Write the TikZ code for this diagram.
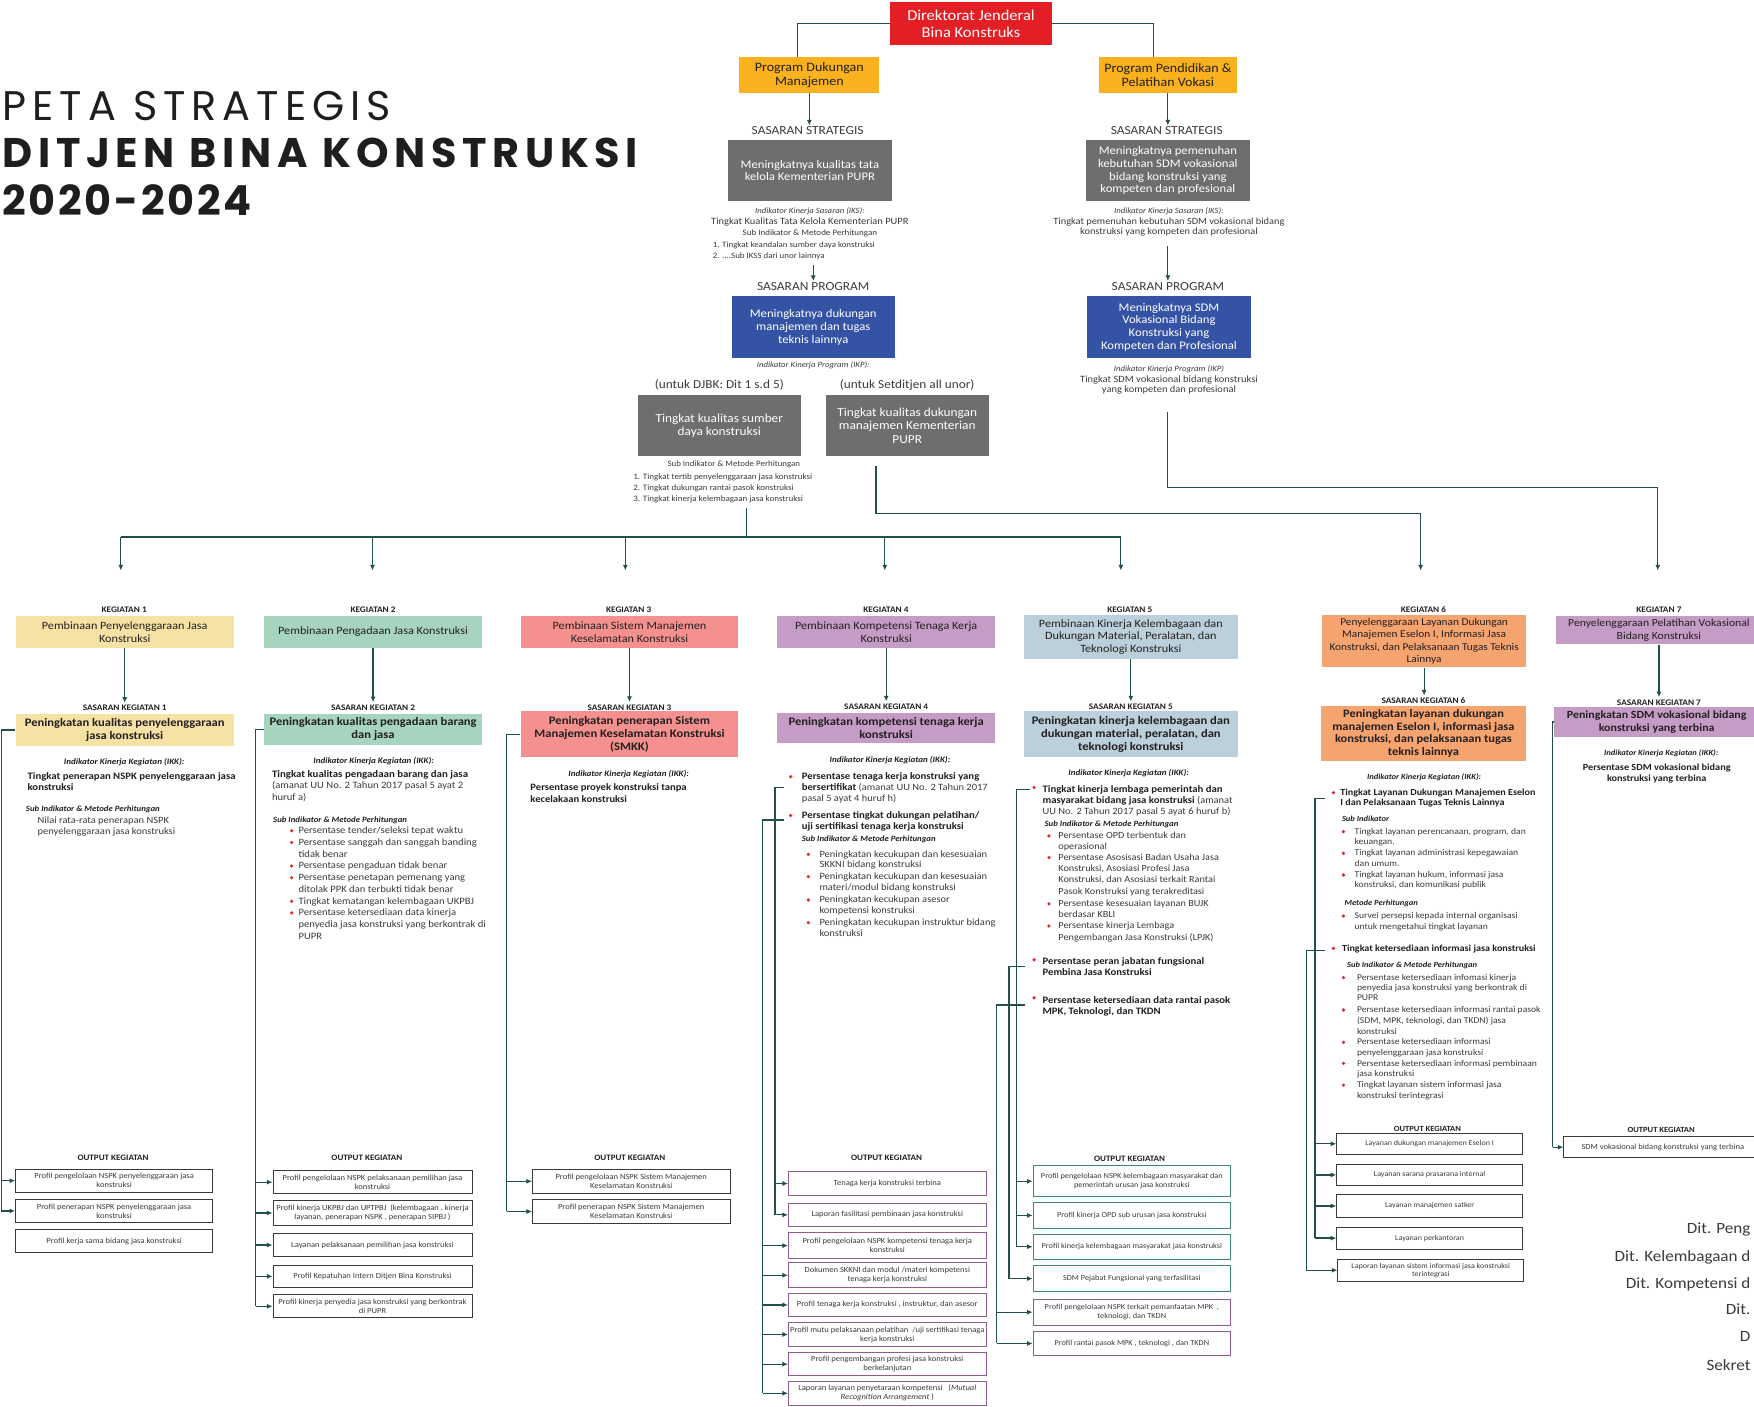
\documentclass[tikz,border=0pt]{standalone}
\usepackage{fontspec}
\setmainfont{Carlito}[FakeStretch=1.09]
\newfontfamily\titleA[LetterSpace=14.5]{Poppins}
\newfontfamily\titleB[LetterSpace=13.7]{Poppins}
\newfontfamily\titleC[LetterSpace=6.5]{Poppins}
\usetikzlibrary{arrows.meta}
\definecolor{djred}{HTML}{E31E25}
\definecolor{progor}{HTML}{F9B21D}
\definecolor{gboxc}{HTML}{6D6E70}
\definecolor{bboxc}{HTML}{3553A4}
\definecolor{kaa}{HTML}{F6E2A5}
\definecolor{kbb}{HTML}{A7D4BF}
\definecolor{kcc}{HTML}{F4918E}
\definecolor{kdd}{HTML}{C59CC6}
\definecolor{kee}{HTML}{BBD0DA}
\definecolor{kff}{HTML}{F5A36F}
\definecolor{lnc}{HTML}{22504F}
\definecolor{txc}{HTML}{3B3B3B}
\definecolor{dark}{HTML}{231F20}
\definecolor{bulr}{HTML}{E3262B}
\definecolor{obpur}{HTML}{8E5B92}
\definecolor{obgrn}{HTML}{3D8D6D}
\definecolor{obdk}{HTML}{3A3A3A}
\definecolor{ttl}{HTML}{1E1E1E}
\newcommand\mlines[1]{\begin{tabular}[t]{@{}l@{}}#1\end{tabular}}
\newcommand\mcent[1]{\begin{tabular}[t]{@{}c@{}}#1\end{tabular}}
\newcommand\bd[1]{\textcolor{dark}{\textbf{#1}}}
\begin{document}
\begin{tikzpicture}[x=1pt,y=-1pt,
 box/.style={inner sep=0pt, align=center},
 kbox/.style={box, text=dark, font=\fontsize{10}{12}\selectfont},
 sbox/.style={box, text=dark, font=\fontsize{10.3}{11.6}\selectfont\bfseries},
 wbox/.style={box, text=white, minimum width=146pt, minimum height=55pt, font=\fontsize{10.4}{11.4}\selectfont},
 lbl/.style={inner sep=0pt, text=dark, font=\fontsize{7.6}{8}\selectfont\bfseries},
 olbl/.style={inner sep=0pt, text=dark, font=\fontsize{7.4}{8}\selectfont\bfseries},
 lab/.style={inner sep=0pt, text=txc, font=\fontsize{11}{12}\selectfont},
 ikk/.style={inner sep=0pt, anchor=base, text=dark, font=\fontsize{7.4}{8}\selectfont\bfseries\itshape, yshift=-2.2pt},
 tlbi/.style={inner sep=0pt, anchor=base west, text=dark, font=\fontsize{7.2}{8}\selectfont\bfseries\itshape, yshift=-2.1pt},
 tl/.style 2 args={inner sep=0pt, anchor=base west, text=txc, font=\fontsize{#1}{#2}\selectfont, yshift={-0.3*#1pt}},
 tlb/.style 2 args={inner sep=0pt, anchor=base west, text=dark, font=\fontsize{#1}{#2}\selectfont\bfseries, yshift={-0.3*#1pt}},
 tc/.style 2 args={inner sep=0pt, anchor=base, text=txc, font=\fontsize{#1}{#2}\selectfont, yshift={-0.3*#1pt}},
 tcb/.style 2 args={inner sep=0pt, anchor=base, text=dark, font=\fontsize{#1}{#2}\selectfont\bfseries, yshift={-0.3*#1pt}},
 ln/.style={draw=lnc, line width=1.1pt},
 arr/.style={ln, -{Latex[length=5pt,width=4.5pt]}},
 ob/.style={draw=obdk, line width=0.8pt, inner sep=0pt, align=center, text=txc, font=\fontsize{7}{8}\selectfont},
]
\useasboundingbox (0,0) rectangle (1568,1257);
\fill[white] (0,0) rectangle (1568,1257);

% ---------- title ----------
\node[anchor=base west, inner sep=0pt, text=ttl, font=\titleA\fontsize{37}{40}\selectfont] (tt1) at (2,108) {PETA STRATEGIS};
\node[anchor=base west, inner sep=0pt, text=ttl, font=\titleB\fontsize{37}{40}\selectfont\bfseries] (tt2) at (2,150) {DITJEN BINA KONSTRUKSI};
\node[anchor=base west, inner sep=0pt, text=ttl, font=\titleC\fontsize{37}{40}\selectfont\bfseries] (tt3) at (2,193) {2020-2024};

% ---------- top ----------
\node[box, fill=djred, text=white, minimum width=144pt, minimum height=38pt, font=\fontsize{13.5}{15}\selectfont] (dj) at (868,21) {Direktorat Jenderal\\Bina Konstruks};
\node[box, fill=progor, text=dark, minimum width=125pt, minimum height=32pt, font=\fontsize{11.5}{12}\selectfont] (pdm) at (723.5,67) {Program Dukungan\\Manajemen};
\node[box, fill=progor, text=dark, minimum width=124pt, minimum height=32pt, font=\fontsize{11.5}{12}\selectfont] (ppv) at (1044,67) {Program Pendidikan \&\\Pelatihan Vokasi};
\draw[ln] (dj.west) -| ([xshift=-10.5pt]pdm.north);
\draw[ln] (dj.east) -| ([xshift=-13pt]ppv.north);

\node[lab] (ss1) at (722,117) {SASARAN STRATEGIS};
\node[lab] (ss2) at (1043,117) {SASARAN STRATEGIS};
\draw[arr, shorten >=1pt] (pdm.south) -- (pdm.south |- ss1.north);
\draw[arr, shorten >=1pt] (ppv.south) -- (ppv.south |- ss2.north);

\node[wbox, fill=gboxc] (g1) at (724,152.5) {Meningkatnya kualitas tata\\kelola Kementerian PUPR};
\node[wbox, fill=gboxc] (g4) at (1044,152.5) {Meningkatnya pemenuhan\\kebutuhan SDM vokasional\\bidang konstruksi yang\\kompeten dan profesional};

\node[tc={7.2}{8}] (iks1) at (724,189) {\itshape Indikator Kinerja Sasaran (IKS):};
\node[tc={8.6}{9}] (iks1t) at (724,198) {Tingkat Kualitas Tata Kelola Kementerian PUPR};
\node[tc={7.4}{8}] (iks1s) at (724,208) {Sub Indikator \& Metode Perhitungan};
\node[tl={7.3}{10}] (iks1l) at (637,219) {\mlines{1. Tingkat keandalan sumber daya konstruksi\\2. ....Sub IKSS dari unor lainnya}};

\node[tc={7.2}{8}] (iks2) at (1045,189) {\itshape Indikator Kinerja Sasaran (IKS):};
\node[tc={8.5}{9.5}] (iks2t) at (1045,198) {\mcent{Tingkat pemenuhan kebutuhan SDM vokasional bidang\\konstruksi yang kompeten dan profesional}};

\node[lab] (sp1) at (727,256) {SASARAN PROGRAM};
\node[lab] (sp2) at (1044,256) {SASARAN PROGRAM};
\coordinate (a1s) at (727,237);
\coordinate (a2s) at (1044,220);
\draw[arr, shorten >=1pt] (a1s) -- (a1s |- sp1.north);
\draw[arr, shorten >=1pt] (a2s) -- (a2s |- sp2.north);

\node[wbox, fill=bboxc] (b1) at (727,292.5) {Meningkatnya dukungan\\manajemen dan tugas\\teknis lainnya};
\node[wbox, fill=bboxc] (b2) at (1045,292.5) {Meningkatnya SDM\\Vokasional Bidang\\Konstruksi yang\\Kompeten dan Profesional};

\node[tc={7.2}{8}] (ikp1) at (727,326) {\itshape Indikator Kinerja Program (IKP):};
\node[tc={7.2}{8}] (ikp2) at (1045,330) {\itshape Indikator Kinerja Program (IKP)};
\node[tc={8.6}{9.4}] (ikp2t) at (1045,339) {\mcent{Tingkat SDM vokasional bidang konstruksi\\yang kompeten dan profesional}};

\node[tc={10.9}{11}] (ud1) at (643,344) {(untuk DJBK: Dit 1 s.d 5)};
\node[tc={10.9}{11}] (ud2) at (811,344) {(untuk Setditjen all unor)};

\node[wbox, fill=gboxc, font=\fontsize{10.9}{12}\selectfont] (g2) at (643,380.5) {Tingkat kualitas sumber\\daya konstruksi};
\node[wbox, fill=gboxc, font=\fontsize{10.9}{12}\selectfont] (g3) at (811,380.5) {Tingkat kualitas dukungan\\manajemen Kementerian\\PUPR};

\node[tc={7.3}{8}] (g2s) at (656,415) {Sub Indikator \& Metode Perhitungan};
\node[tl={7.4}{9.6}] (g2l) at (566,426.5) {\mlines{1. Tingkat tertib penyelenggaraan jasa konstruksi\\2. Tingkat dukungan rantai pasok konstruksi\\3. Tingkat kinerja kelembagaan jasa konstruksi}};

% ---------- distribution lines ----------
\coordinate (bus0) at (667,454);
\coordinate (busm) at (667,480);
\coordinate (busl) at (108,480);
\coordinate (busr) at (1002,480);
\coordinate (d1) at (108,510);
\coordinate (d2) at (333,510);
\coordinate (d3) at (559,510);
\coordinate (d4) at (791,510);
\coordinate (d5) at (1002,510);
\coordinate (d6) at (1270,510);
\coordinate (d7) at (1482,510);
\draw[ln] (bus0) -- (busm);
\draw[ln] (busl) -- (busr);
\draw[arr] (busl) -- (d1);
\draw[arr] (d2 |- busm) -- (d2);
\draw[arr] (d3 |- busm) -- (d3);
\draw[arr] (d4 |- busm) -- (d4);
\draw[arr] (busr) -- (d5);
\coordinate (sd0) at (783,417);
\draw[arr] (sd0) -- ++(0,42) -| (d6);
\coordinate (rv0) at (1044,368);
\draw[arr] (rv0) -- ++(0,68) -| (d7);

% ---------- KEGIATAN 1 ----------
\node[lbl] (k1l) at (111,545) {KEGIATAN 1};
\node[kbox, fill=kaa, minimum width=195pt, minimum height=28pt] (k1) at (111.5,565) {Pembinaan Penyelenggaraan Jasa\\Konstruksi};
\node[lbl] (s1l) at (111.5,633) {SASARAN KEGIATAN 1};
\draw[arr, shorten >=2pt] (k1.south) -- (k1.south |- s1l.north);
\node[sbox, fill=kaa, minimum width=195pt, minimum height=29pt] (s1) at (111.5,652.5) {Peningkatan kualitas penyelenggaraan\\jasa konstruksi};
\node[ikk] (i1) at (111,681) {Indikator Kinerja Kegiatan (IKK):};
\node[tlb={8.8}{10}] (i1a) at (24.5,694) {\mlines{Tingkat penerapan NSPK penyelenggaraan jasa\\konstruksi}};
\node[tlbi] (i1s) at (23,723) {Sub Indikator \& Metode Perhitungan};
\node[tl={8.6}{9.8}] (i1b) at (33.5,733.7) {\mlines{Nilai rata-rata penerapan NSPK\\penyelenggaraan jasa konstruksi}};

\node[olbl] (o1l) at (101,1035) {OUTPUT KEGIATAN};
\node[ob, minimum width=176pt, minimum height=21pt] (o11) at (102,1055.5) {Profil pengelolaan NSPK penyelenggaraan jasa\\konstruksi};
\node[ob, minimum width=176pt, minimum height=21pt] (o12) at (102,1082.5) {Profil penerapan NSPK penyelenggaraan jasa\\konstruksi};
\node[ob, minimum width=176pt, minimum height=21pt] (o13) at (102,1109.5) {Profil kerja sama bidang jasa konstruksi};
\coordinate (c1) at (1,652.5);
\draw[ln] (s1.west) -- (c1) -- (c1 |- o12.west);
\draw[arr] (c1 |- o11.west) -- (o11.west);
\draw[arr] (c1 |- o12.west) -- (o12.west);

% ---------- KEGIATAN 2 ----------
\node[lbl] (k2l) at (333.5,545) {KEGIATAN 2};
\node[kbox, fill=kbb, minimum width=195pt, minimum height=28pt] (k2) at (333.5,565) {Pembinaan Pengadaan Jasa Konstruksi};
\node[lbl] (s2l) at (333.5,632.5) {SASARAN KEGIATAN 2};
\draw[arr, shorten >=2pt] (k2.south) -- (k2.south |- s2l.north);
\node[sbox, fill=kbb, minimum width=195pt, minimum height=28pt] (s2) at (333.5,652) {Peningkatan kualitas pengadaan barang\\dan jasa};
\node[ikk] (i2) at (334,680) {Indikator Kinerja Kegiatan (IKK):};
\node[tl={8.7}{10.4}] (i2a) at (243,692) {\mlines{\bd{\fontsize{8.9}{10.4}\selectfont Tingkat kualitas pengadaan barang dan jasa}\\(amanat UU No. 2 Tahun 2017 pasal 5 ayat 2\\huruf a)}};
\node[tlbi] (i2s) at (244,733) {Sub Indikator \& Metode Perhitungan};
\node[tl={8.7}{10.5}] (i2b) at (266.7,742.6) {\mlines{Persentase tender/seleksi tepat waktu\\Persentase sanggah dan sanggah banding\\tidak benar\\Persentase pengaduan tidak benar\\Persentase penetapan pemenang yang\\ditolak PPK dan terbukti tidak benar\\Tingkat kematangan kelembagaan UKPBJ\\Persentase ketersediaan data kinerja\\penyedia jasa konstruksi yang berkontrak di\\PUPR}};
\foreach \yy in {742.6,753.1,774.1,784.6,805.6,816.1} \fill[bulr] (260.7,\yy) circle[radius=1.6pt];

\node[olbl] (o2l) at (328,1035) {OUTPUT KEGIATAN};
\node[ob, minimum width=178pt, minimum height=20.5pt] (o21) at (333,1056.8) {Profil pengelolaan NSPK pelaksanaan pemilihan jasa\\konstruksi};
\node[ob, minimum width=178pt, minimum height=22.6pt] (o22) at (333,1084.3) {Profil kinerja UKPBJ dan UPTPBJ~~(kelembagaan , kinerja\\layanan, penerapan NSPK , penerapan SIPBJ )};
\node[ob, minimum width=178pt, minimum height=20pt] (o23) at (333,1113) {Layanan pelaksanaan pemilihan jasa konstruksi};
\node[ob, minimum width=178pt, minimum height=20pt] (o24) at (333,1141) {Profil Kepatuhan Intern Ditjen Bina Konstruksi};
\node[ob, minimum width=178pt, minimum height=20.5pt] (o25) at (333,1167.8) {Profil kinerja penyedia jasa konstruksi yang berkontrak\\di PUPR};
\coordinate (c2) at (228.6,652);
\draw[ln] (s2.west) -- (c2) -- (c2 |- o25.west);
\foreach \o in {o21,o22,o23,o24,o25} \draw[arr] (c2 |- \o.west) -- (\o.west);

% ---------- KEGIATAN 3 ----------
\node[lbl] (k3l) at (562,545) {KEGIATAN 3};
\node[kbox, fill=kcc, minimum width=194.5pt, minimum height=28pt] (k3) at (562.7,565) {Pembinaan Sistem Manajemen\\Keselamatan Konstruksi};
\node[lbl] (s3l) at (562.7,632.3) {SASARAN KEGIATAN 3};
\draw[arr, shorten >=2pt] (k3.south) -- (k3.south |- s3l.north);
\node[sbox, fill=kcc, minimum width=194.5pt, minimum height=41pt] (s3) at (562.7,656.5) {Peningkatan penerapan Sistem\\Manajemen Keselamatan Konstruksi\\(SMKK)};
\node[ikk] (i3) at (562,692) {Indikator Kinerja Kegiatan (IKK):};
\node[tlb={8.7}{10.7}] (i3a) at (474,703.8) {\mlines{Persentase proyek konstruksi tanpa\\kecelakaan konstruksi}};

\node[olbl] (o3l) at (563,1035) {OUTPUT KEGIATAN};
\node[ob, minimum width=176.6pt, minimum height=22pt] (o31) at (564.3,1056) {Profil pengelolaan NSPK Sistem Manajemen\\Keselamatan Konstruksi};
\node[ob, minimum width=176.6pt, minimum height=22pt] (o32) at (564.3,1083) {Profil penerapan NSPK Sistem Manajemen\\Keselamatan Konstruksi};
\coordinate (c3) at (453,656.5);
\draw[ln] (s3.west) -- (c3) -- (c3 |- o32.west);
\foreach \o in {o31,o32} \draw[arr] (c3 |- \o.west) -- (\o.west);

% ---------- KEGIATAN 4 ----------
\node[lbl] (k4l) at (792,545) {KEGIATAN 4};
\node[kbox, fill=kdd, minimum width=194.5pt, minimum height=28pt] (k4) at (792.2,565) {Pembinaan Kompetensi Tenaga Kerja\\Konstruksi};
\node[lbl] (s4l) at (792.2,631.7) {SASARAN KEGIATAN 4};
\draw[arr, shorten >=2pt] (k4.south) -- (k4.south |- s4l.north);
\node[sbox, fill=kdd, minimum width=194.5pt, minimum height=27.5pt] (s4) at (792.2,650.7) {Peningkatan kompetensi tenaga kerja\\konstruksi};
\node[ikk] (i4) at (795.6,679.4) {Indikator Kinerja Kegiatan (IKK):};
\node[tl={8.6}{10}] (i4a) at (716.6,694.3) {\mlines{\bd{\fontsize{8.8}{10}\selectfont Persentase tenaga kerja konstruksi yang}\\\bd{\fontsize{8.8}{10}\selectfont bersertifikat} (amanat UU No. 2 Tahun 2017\\pasal 5 ayat 4 huruf h)}};
\node[tlb={8.8}{10}] (i4b) at (716.6,729) {\mlines{Persentase tingkat dukungan pelatihan/\\uji sertifikasi tenaga kerja konstruksi}};
\fill[bulr] (706.8,694.3) circle[radius=1.6pt];
\fill[bulr] (706.8,729) circle[radius=1.6pt];
\node[tlbi] (i4s) at (716.6,750.3) {Sub Indikator \& Metode Perhitungan};
\node[tl={8.6}{9.6}] (i4c) at (732.4,763.7) {\mlines{Peningkatan kecukupan dan kesesuaian\\SKKNI bidang konstruksi}};
\node[tl={8.6}{9.6}] (i4d) at (732.4,783.7) {\mlines{Peningkatan kecukupan dan kesesuaian\\materi/modul bidang konstruksi}};
\node[tl={8.6}{9.6}] (i4e) at (732.4,804.5) {\mlines{Peningkatan kecukupan asesor\\kompetensi konstruksi}};
\node[tl={8.6}{9.6}] (i4f) at (732.4,824.8) {\mlines{Peningkatan kecukupan instruktur bidang\\konstruksi}};
\foreach \yy in {763.7,783.7,804.5,824.8} \fill[bulr] (722.6,\yy) circle[radius=1.6pt];

\node[olbl] (o4l) at (792.5,1035) {OUTPUT KEGIATAN};
\tikzset{obp/.style={ob, draw=obpur, minimum width=176.7pt}}
\node[obp, minimum height=22pt] (o41) at (793.2,1058) {Tenaga kerja konstruksi terbina};
\node[obp, minimum height=21pt] (o42) at (793.2,1086) {Laporan fasilitasi pembinaan jasa konstruksi};
\node[obp, minimum height=23pt] (o43) at (793.2,1113.5) {Profil pengelolaan NSPK kompetensi tenaga kerja\\konstruksi};
\node[obp, minimum height=22pt] (o44) at (793.2,1140) {Dokumen SKKNI dan modul /materi kompetensi\\tenaga kerja konstruksi};
\node[obp, minimum height=21pt] (o45) at (793.2,1166.5) {Profil tenaga kerja konstruksi , instruktur, dan asesor};
\node[obp, minimum height=22pt] (o46) at (793.2,1193) {Profil mutu pelaksanaan pelatihan~ /uji sertifikasi tenaga\\kerja konstruksi};
\node[obp, minimum height=21pt] (o47) at (793.2,1219.5) {Profil pengembangan profesi jasa konstruksi\\berkelanjutan};
\node[obp, minimum height=21pt] (o48) at (793.2,1245.5) {Laporan layanan penyetaraan kompetensi~~ (\textit{Mutual}\\\textit{Recognition Arrangement} )};
\coordinate (k4a) at (692.8,704.1);
\coordinate (k4ae) at (700.9,704.1);
\draw[ln] (k4ae) -- (k4a) -- (k4a |- o42.west);
\foreach \o in {o41,o42} \draw[arr] (k4a |- \o.west) -- (\o.west);
\coordinate (k4b) at (681.8,733);
\coordinate (k4be) at (701,733);
\draw[ln] (k4be) -- (k4b) -- (k4b |- o48.west);
\foreach \o in {o43,o44,o45,o46,o47,o48} \draw[arr] (k4b |- \o.west) -- (\o.west);

% ---------- KEGIATAN 5 ----------
\node[lbl] (k5l) at (1010,545.3) {KEGIATAN 5};
\node[kbox, fill=kee, minimum width=191pt, minimum height=39.3pt, font=\fontsize{10}{11.6}\selectfont] (k5) at (1010.9,569.5) {Pembinaan Kinerja Kelembagaan dan\\Dukungan Material, Peralatan, dan\\Teknologi Konstruksi};
\node[lbl] (s5l) at (1010.9,631.7) {SASARAN KEGIATAN 5};
\draw[arr, shorten >=2pt] (k5.south) -- (k5.south |- s5l.north);
\node[sbox, fill=kee, minimum width=191pt, minimum height=41pt] (s5) at (1010.9,656.5) {Peningkatan kinerja kelembagaan dan\\dukungan material, peralatan, dan\\teknologi konstruksi};
\node[ikk] (i5) at (1009,690.7) {Indikator Kinerja Kegiatan (IKK):};
\node[tl={8.6}{10}] (i5a) at (931.8,705.6) {\mlines{\bd{\fontsize{8.8}{10}\selectfont Tingkat kinerja lembaga pemerintah dan}\\\bd{\fontsize{8.8}{10}\selectfont masyarakat bidang jasa konstruksi} (amanat\\UU No. 2 Tahun 2017 pasal 5 ayat 6 huruf b)}};
\node[tlbi] (i5s) at (933.6,736.9) {Sub Indikator \& Metode Perhitungan};
\node[tl={8.4}{9.9}] (i5c) at (946,747.3) {\mlines{Persentase OPD terbentuk dan\\operasional}};
\node[tl={8.4}{10}] (i5d) at (946,766.7) {\mlines{Persentase Asosisasi Badan Usaha Jasa\\Konstruksi, Asosiasi Profesi Jasa\\Konstruksi, dan Asosiasi terkait Rantai\\Pasok Konstruksi yang terakreditasi}};
\node[tl={8.4}{9.6}] (i5e) at (946,808) {\mlines{Persentase kesesuaian layanan BUJK\\berdasar KBLI}};
\node[tl={8.4}{10.4}] (i5f) at (946,827.8) {\mlines{Persentase kinerja Lembaga\\Pengembangan Jasa Konstruksi (LPJK)}};
\foreach \yy in {747.3,766.7,808,827.8} \fill[bulr] (937.7,\yy) circle[radius=1.6pt];
\node[tlb={8.8}{10}] (i5g) at (931.8,859.7) {\mlines{Persentase peran jabatan fungsional\\Pembina Jasa Konstruksi}};
\node[tlb={8.8}{10.4}] (i5h) at (931.8,894) {\mlines{Persentase ketersediaan data rantai pasok\\MPK, Teknologi, dan TKDN}};
\foreach \yy in {704,858,892} \fill[bulr] (924.4,\yy) circle[radius=1.6pt];

\node[olbl] (o5l) at (1009.7,1035.5) {OUTPUT KEGIATAN};
\tikzset{obg/.style={ob, draw=obgrn, minimum width=176.5pt, font=\fontsize{6.8}{8}\selectfont},
 obq/.style={ob, draw=obpur, minimum width=176.5pt, font=\fontsize{6.8}{8}\selectfont}}
\node[obg, minimum height=28pt] (o51) at (1011.8,1056) {Profil pengelolaan NSPK kelembagaan masyarakat dan\\pemerintah urusan jasa konstruksi};
\node[obg, minimum height=22.5pt] (o52) at (1011.8,1086.5) {Profil kinerja OPD sub urusan jasa konstruksi};
\node[obg, minimum height=22pt] (o53) at (1011.8,1114.5) {Profil kinerja kelembagaan masyarakat jasa konstruksi};
\node[obg, minimum height=23pt] (o54) at (1011.8,1143) {SDM Pejabat Fungsional yang terfasilitasi};
\node[obq, minimum height=23pt] (o55) at (1011.8,1173) {Profil pengelolaan NSPK terkait pemanfaatan MPK~ ,\\teknologi, dan TKDN};
\node[obq, minimum height=22pt] (o56) at (1011.8,1201) {Profil rantai pasok MPK , teknologi , dan TKDN};
\coordinate (k5a) at (909,706);
\coordinate (k5ae) at (920.8,706);
\coordinate (k5b) at (902,864);
\coordinate (k5be) at (916.3,864);
\coordinate (k5c) at (891,898.5);
\coordinate (k5ce) at (916.3,898.5);
\draw[ln] (k5ae) -- (k5a) -- (k5a |- o53.west);
\foreach \o in {o51,o52,o53} \draw[arr] (k5a |- \o.west) -- (\o.west);
\draw[ln] (k5be) -- (k5b) -- (k5b |- o54.west);
\draw[arr] (k5b |- o54.west) -- (o54.west);
\draw[ln] (k5ce) -- (k5c) -- (k5c |- o56.west);
\foreach \o in {o55,o56} \draw[arr] (k5c |- \o.west) -- (\o.west);

% ---------- KEGIATAN 6 ----------
\node[lbl] (k6l) at (1272.5,545.3) {KEGIATAN 6};
\node[kbox, fill=kff, minimum width=181.8pt, minimum height=46.7pt, font=\fontsize{9.3}{11.1}\selectfont] (k6) at (1273.1,573.2) {Penyelenggaraan Layanan Dukungan\\Manajemen Eselon I, Informasi Jasa\\Konstruksi, dan Pelaksanaan Tugas Teknis\\Lainnya};
\node[lbl] (s6l) at (1272.5,626.6) {SASARAN KEGIATAN 6};
\draw[arr, shorten >=2pt] (k6.south) -- (k6.south |- s6l.north);
\node[sbox, fill=kff, minimum width=183pt, minimum height=49pt, font=\fontsize{10.2}{11.2}\selectfont\bfseries] (s6) at (1272.5,655.5) {Peningkatan layanan dukungan\\manajemen Eselon I, informasi jasa\\konstruksi, dan pelaksanaan tugas\\teknis lainnya};
\node[ikk, font=\fontsize{7}{8}\selectfont\bfseries\itshape] (i6) at (1273,695) {Indikator Kinerja Kegiatan (IKK):};
\node[tlb={8.3}{9.2}] (i6a) at (1198,708.6) {\mlines{Tingkat Layanan Dukungan Manajemen Eselon\\I dan Pelaksanaan Tugas Teknis Lainnya}};
\node[tlbi, font=\fontsize{7}{8}\selectfont\bfseries\itshape] (i6s) at (1199.5,732.4) {Sub Indikator};
\node[tl={7.9}{9.5}] (i6c) at (1210.8,743.5) {\mlines{Tingkat layanan perencanaan, program, dan\\keuangan.}};
\node[tl={7.9}{9.5}] (i6d) at (1210.8,762.8) {\mlines{Tingkat layanan administrasi kepegawaian\\dan umum.}};
\node[tl={7.9}{9}] (i6e) at (1210.8,782.2) {\mlines{Tingkat layanan hukum, informasi jasa\\konstruksi, dan komunikasi publik}};
\node[tlbi, font=\fontsize{7}{8}\selectfont\bfseries\itshape] (i6m) at (1201.8,807.5) {Metode Perhitungan};
\node[tl={7.9}{9.5}] (i6f) at (1210.8,818.9) {\mlines{Survei persepsi kepada internal organisasi\\untuk mengetahui tingkat layanan}};
\node[tlb={8.3}{9}] (i6b) at (1199.5,847.8) {Tingkat ketersediaan informasi jasa konstruksi};
\node[tlbi, font=\fontsize{7}{8}\selectfont\bfseries\itshape] (i6s2) at (1204,863.2) {Sub Indikator \& Metode Perhitungan};
\node[tl={7.9}{9}] (i6g) at (1212.9,874) {\mlines{Persentase ketersediaan infomasi kinerja\\penyedia jasa konstruksi yang berkontrak di\\PUPR}};
\node[tl={7.9}{9.6}] (i6h) at (1212.9,902.9) {\mlines{Persentase ketersediaan informasi rantai pasok\\(SDM, MPK, teknologi, dan TKDN) jasa\\konstruksi}};
\node[tl={7.9}{9.2}] (i6i) at (1212.9,931.8) {\mlines{Persentase ketersediaan informasi\\penyelenggaraan jasa konstruksi}};
\node[tl={7.9}{9}] (i6j) at (1212.9,950.6) {\mlines{Persentase ketersediaan informasi pembinaan\\jasa konstruksi}};
\node[tl={7.9}{9.5}] (i6k) at (1212.9,970) {\mlines{Tingkat layanan sistem informasi jasa\\konstruksi terintegrasi}};
\foreach \yy in {708.6,847.8} \fill[bulr] (1192,\yy) circle[radius=1.6pt];
\foreach \yy in {743.5,762.8,782.2,818.9,874,902.9,931.8,950.6,970} \fill[bulr] (1201,\yy) circle[radius=1.6pt];

\node[olbl, font=\fontsize{7}{8}\selectfont\bfseries] (o6l) at (1276,1009) {OUTPUT KEGIATAN};
\tikzset{obk/.style={ob, minimum width=166pt, font=\fontsize{6.6}{7}\selectfont}}
\node[obk, minimum height=19.4pt] (o61) at (1278,1022.5) {Layanan dukungan manajemen Eselon I};
\node[obk, minimum height=19.5pt] (o62) at (1278,1050.3) {Layanan sarana prasarana internal};
\node[obk, minimum height=20pt] (o63) at (1278,1078) {Layanan manajemen satker};
\node[obk, minimum height=19.5pt] (o64) at (1278,1106.8) {Layanan perkantoran};
\node[obk, minimum height=19.3pt] (o65) at (1279,1135.5) {Laporan layanan sistem informasi jasa konstruksi\\terintegrasi};
\coordinate (k6a) at (1175.6,713.6);
\coordinate (k6ae) at (1184.5,713.6);
\coordinate (k6b) at (1167.6,850);
\coordinate (k6be) at (1184.5,850);
\draw[ln] (k6ae) -- (k6a) -- (k6a |- o64.west);
\foreach \o in {o61,o62,o63,o64} \draw[arr] (k6a |- \o.west) -- (\o.west);
\draw[ln] (k6be) -- (k6b) -- (k6b |- o65.west);
\draw[arr] (k6b |- o65.west) -- (o65.west);

% ---------- KEGIATAN 7 ----------
\node[lbl] (k7l) at (1483,544.7) {KEGIATAN 7};
\node[kbox, fill=kdd, minimum width=184pt, minimum height=25.4pt, font=\fontsize{9.6}{11.9}\selectfont] (k7) at (1483,563.3) {Penyelenggaraan Pelatihan Vokasional\\Bidang Konstruksi};
\node[lbl] (s7l) at (1483,628) {SASARAN KEGIATAN 7};
\draw[arr, shorten >=2pt] (k7.south) -- (k7.south |- s7l.north);
\node[sbox, fill=kdd, minimum width=184pt, minimum height=27pt, font=\fontsize{9.8}{12}\selectfont\bfseries] (s7) at (1481,645.5) {Peningkatan SDM vokasional bidang\\konstruksi yang terbina};
\node[ikk, font=\fontsize{7}{8}\selectfont\bfseries\itshape] (i7) at (1485,673) {Indikator Kinerja Kegiatan (IKK):};
\node[tcb={8.4}{10}] (i7a) at (1481,686) {\mcent{Persentase SDM vokasional bidang\\konstruksi yang terbina}};
\node[olbl, font=\fontsize{7}{8}\selectfont\bfseries] (o7l) at (1485,1010) {OUTPUT KEGIATAN};
\node[obk, minimum width=177pt, minimum height=19pt, font=\fontsize{7}{8}\selectfont] (o71) at (1486.5,1025.5) {SDM vokasional bidang konstruksi yang terbina};
\coordinate (c7) at (1388,645.5);
\draw[ln] (s7.west) -- (c7) -- (c7 |- o71.west);
\draw[arr] (c7 |- o71.west) -- (o71.west);

% ---------- right edge texts ----------
\tikzset{rt/.style={anchor=east, inner sep=0pt, text=txc, font=\fontsize{14}{17}\selectfont}}
\node[rt] (r1) at (1565,1099) {Dit. Peng};
\node[rt] (r2) at (1565,1124) {Dit. Kelembagaan d};
\node[rt] (r3) at (1565,1148) {Dit. Kompetensi d};
\node[rt] (r4) at (1565,1170) {Dit.};
\node[rt] (r5) at (1565,1195) {D};
\node[rt] (r6) at (1565,1220) {Sekret};
\end{tikzpicture}
\end{document}
